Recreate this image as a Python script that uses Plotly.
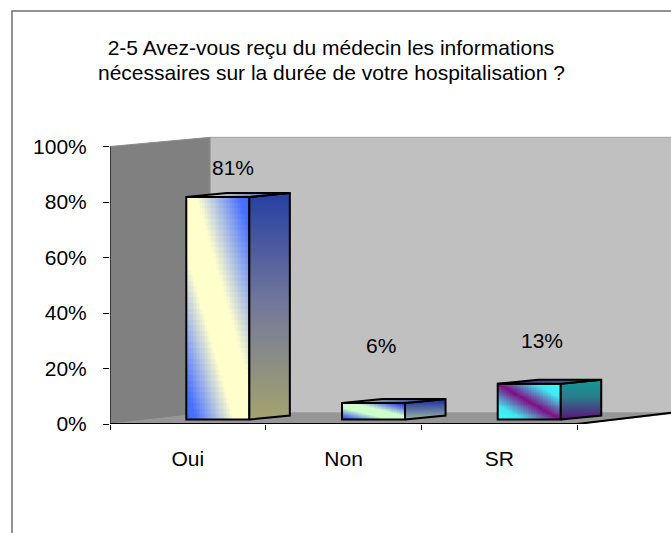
import numpy as np
import plotly.graph_objects as go

# ---- data ----
categories = ["Oui", "Non", "SR"]
percent_values = [81, 6, 13]
percent_labels = ["81%", "6%", "13%"]
y_ticks = [0, 20, 40, 60, 80, 100]
y_tick_labels = ["0%", "20%", "40%", "60%", "80%", "100%"]

# ---- 3D styling ----
TITLE_LINE_1 = "2-5 Avez-vous reçu du médecin les informations"
TITLE_LINE_2 = "nécessaires sur la durée de votre hospitalisation ?"
FONT = "Liberation Sans, Arial, sans-serif"
FS = 21
X_END = 3.103
WALL_DX, WALL_TOP_DY, WALL_BOTTOM_DY = 0.642, 3.3, 3.96
BAR_LEFT, BAR_W, BAR_DX, BAR_DY, BAR_BASE, PERSPECTIVE = -0.01, 0.405, 0.26, 1.45, 1.6, 0.99
FRONT_SCALES = [
    [[0, "#3a66ff"], [0.08, "#4a72ff"], [0.38, "#ffffcc"], [0.58, "#ffffcc"], [0.92, "#4a72ff"], [1, "#3a66ff"]],
    [[0, "#2a3cf0"], [0.12, "#5c78ea"], [0.36, "#ccffcc"], [0.58, "#ccffcc"], [0.9, "#4050e0"], [1, "#2828d0"]],
    [[0, "#33ffff"], [0.2, "#40e8f0"], [0.5, "#7f0f85"], [0.8, "#40e8f0"], [1, "#33ffff"]],
]
SIDE_SCALES = [
    [[0, "#a3a36e"], [0.5, "#75799a"], [1, "#2540a3"]],
    [[0, "#9ab8a2"], [1, "#1a2aa0"]],
    [[0, "#60107a"], [0.55, "#2a7a8a"], [1, "#139a9a"]],
]
TOP_SCALES = [
    [[0, "#ffffcc"], [1, "#2a45a8"]],
    [[0, "#a0c8a8"], [1, "#1c2a9c"]],
    [[0, "#7a1080"], [1, "#109595"]],
]
LABEL_SHIFT = [(15, 30), (7, 58), (13, 43)]


def poly(points):
    return "M " + " L ".join(f"{x} {y}" for x, y in points) + " Z"


fig = go.Figure()

# walls and floor sit below every trace
shapes = [
    dict(type="path", layer="below", xref="x", yref="y", line=dict(color="#a0a0a0", width=1), fillcolor="#c0c0c0",
         path=poly([(-0.5 + WALL_DX, WALL_BOTTOM_DY), (-0.5 + WALL_DX, 100 + WALL_TOP_DY), (X_END + 1, 100 + WALL_TOP_DY), (X_END + 1, WALL_BOTTOM_DY)])),
    dict(type="path", layer="below", xref="x", yref="y", line=dict(color="#8c8c8c", width=1), fillcolor="#808080",
         path=poly([(-0.5, 0), (-0.5, 100), (-0.5 + WALL_DX, 100 + WALL_TOP_DY), (-0.5 + WALL_DX, WALL_BOTTOM_DY)])),
    dict(type="path", layer="below", xref="x", yref="y", line=dict(color="#969696", width=1), fillcolor="#969696",
         path=poly([(-0.5, 0), (-0.5 + WALL_DX, WALL_BOTTOM_DY), (2.5 + WALL_DX, WALL_BOTTOM_DY), (2.5, 0)])),
    # chart frame, running off the right and bottom of the picture
    dict(type="rect", xref="paper", yref="paper", x0=-0.1747, x1=1.1, y0=-0.5, y1=1.405,
         line=dict(color="#707070", width=1.5), layer="below"),
]

for i, v in enumerate(percent_values):
    left = i + BAR_LEFT
    right = left + BAR_W
    top = BAR_BASE + v * PERSPECTIVE
    # front face: diagonal gradient in the face's own coordinates
    xe = np.linspace(left, right, 41)
    ye = np.linspace(BAR_BASE, top, 41)
    u = (np.arange(40) + 0.5) / 40
    z = (u[None, :] + u[:, None]) / 2
    fig.add_trace(go.Heatmap(x=xe, y=ye, z=z, zmin=0, zmax=1, colorscale=FRONT_SCALES[i],
                             showscale=False, hoverinfo="skip"))
    # side face
    fig.add_trace(go.Scatter(
        x=[right, right + BAR_DX, right + BAR_DX, right, right],
        y=[BAR_BASE, BAR_BASE + BAR_DY, top + BAR_DY, top, BAR_BASE],
        mode="lines", fill="toself", line=dict(color="#000000", width=2),
        fillgradient=dict(type="vertical", colorscale=SIDE_SCALES[i]),
        hoverinfo="skip", showlegend=False, cliponaxis=False))
    # top face
    fig.add_trace(go.Scatter(
        x=[left, left + BAR_DX, right + BAR_DX, right, left],
        y=[top, top + BAR_DY, top + BAR_DY, top, top],
        mode="lines", fill="toself", line=dict(color="#000000", width=2),
        fillgradient=dict(type="horizontal", colorscale=TOP_SCALES[i]),
        hoverinfo="skip", showlegend=False, cliponaxis=False))
    fig.add_annotation(x=left + BAR_W / 2, y=top, text=percent_labels[i], showarrow=False,
                       xshift=LABEL_SHIFT[i][0], yshift=LABEL_SHIFT[i][1],
                       font=dict(family=FONT, size=FS, color="#000000"))

# second title line (the reference's line spacing is tighter than Plotly's)
fig.add_annotation(xref="paper", yref="paper", x=0.394, y=1.194, xanchor="center", yanchor="middle",
                   text=TITLE_LINE_2, showarrow=False, font=dict(family=FONT, size=FS, color="#000000"))

# front outline from the values
fig.add_trace(go.Bar(
    x=[i + BAR_LEFT for i in range(len(percent_values))],
    y=[v * PERSPECTIVE for v in percent_values], base=BAR_BASE, width=BAR_W, offset=0,
    marker=dict(color="rgba(0,0,0,0)", line=dict(color="#000000", width=2)),
    hoverinfo="skip", showlegend=False))

# axis lines
fig.add_trace(go.Scatter(x=[-0.5, -0.5], y=[0, 100], mode="lines", line=dict(color="#202020", width=1.5),
                         hoverinfo="skip", showlegend=False, cliponaxis=False))
fig.add_trace(go.Scatter(x=[-0.5, 2.5, 2.5 + WALL_DX], y=[0, 0, WALL_BOTTOM_DY + 0.4], mode="lines",
                         line=dict(color="#000000", width=2), hoverinfo="skip", showlegend=False))

fig.update_layout(
    width=671, height=533, autosize=False, showlegend=False,
    margin=dict(l=110, r=0, t=130, b=109),
    paper_bgcolor="#ffffff", plot_bgcolor="rgba(0,0,0,0)",
    font=dict(family=FONT, size=FS, color="#000000"),
    title=dict(text=TITLE_LINE_1, x=0.4933, xanchor="center", xref="container", yref="container", y=0.91, yanchor="middle",
               font=dict(family=FONT, size=FS)),
    shapes=shapes,
    xaxis=dict(type="linear", range=[-0.5, X_END], showgrid=False, zeroline=False, showline=False,
               tickmode="array", tickvals=list(range(len(categories))), ticktext=categories,
               ticks="", ticklabelstandoff=20, tickfont=dict(family=FONT, size=FS),
               minor=dict(tickmode="array", tickvals=[-0.5, 0.5, 1.5, 2.5], ticks="outside", ticklen=5,
                          tickcolor="#000000", tickwidth=1, showgrid=False)),
    yaxis=dict(type="linear", range=[0, 105.95], showgrid=False, zeroline=False, showline=False,
               tickmode="array", tickvals=y_ticks, ticktext=y_tick_labels,
               ticks="outside", ticklen=6, tickcolor="#000000", tickwidth=1,
               ticklabelstandoff=12, tickfont=dict(family=FONT, size=FS)),
)

fig.write_html("out.html", post_script="document.body.style.margin='0';", config={"displayModeBar": False})
